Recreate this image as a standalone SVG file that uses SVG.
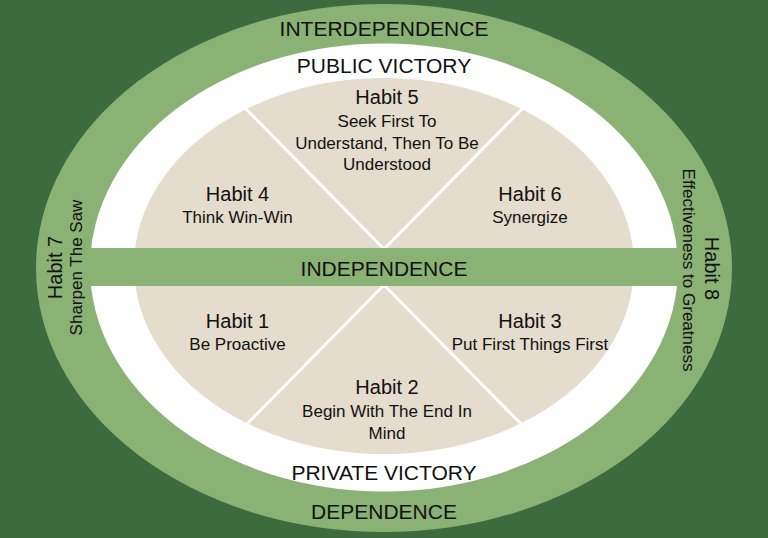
<svg xmlns="http://www.w3.org/2000/svg" width="768" height="538" viewBox="0 0 768 538">
<style>
text{font-family:"Liberation Sans",Arial,sans-serif;fill:#111;text-anchor:middle}
.big{font-size:21px}
.h{font-size:20px}
.s{font-size:17px}
.div{stroke:#fff;stroke-width:3;fill:none}
</style>
<rect width="768" height="538" fill="#3c6b3e"/>
<g id="interdependence">
<ellipse cx="384" cy="268" rx="348" ry="264" fill="#89b274"/>
<text class="big" x="384" y="36">INTERDEPENDENCE</text>
<text class="big" x="384" y="519">DEPENDENCE</text>
</g>
<g id="victory-ring">
<ellipse cx="384" cy="267.5" rx="294" ry="224" fill="#fff"/>
<text class="big" x="384" y="73">PUBLIC VICTORY</text>
<text class="big" x="384" y="480">PRIVATE VICTORY</text>
</g>
<g id="habits-area">
<ellipse cx="384" cy="266" rx="250" ry="188" fill="#e4dccc"/>
</g>
<g id="connectors">
<line class="div" x1="384" y1="249" x2="240" y2="103"/>
<line class="div" x1="384" y1="249" x2="528" y2="103"/>
<line class="div" x1="384" y1="285" x2="240" y2="431"/>
<line class="div" x1="384" y1="285" x2="528" y2="431"/>
</g>
<g id="independence">
<rect x="85" y="248" width="598" height="38" fill="#89b274"/>
<text class="big" x="384" y="275.5">INDEPENDENCE</text>
</g>
<g id="habit5">
<text class="h" x="387" y="104">Habit 5</text>
<text class="s" x="387" y="127">Seek First To</text>
<text class="s" x="387" y="148.5">Understand, Then To Be</text>
<text class="s" x="387" y="170">Understood</text>
</g>
<g id="habit4">
<text class="h" x="237.5" y="201">Habit 4</text>
<text class="s" x="237.5" y="223">Think Win-Win</text>
</g>
<g id="habit6">
<text class="h" x="530" y="200.5">Habit 6</text>
<text class="s" x="530" y="223">Synergize</text>
</g>
<g id="habit1">
<text class="h" x="237.5" y="328">Habit 1</text>
<text class="s" x="237.5" y="350">Be Proactive</text>
</g>
<g id="habit3">
<text class="h" x="530" y="327.5">Habit 3</text>
<text class="s" x="530" y="349.5">Put First Things First</text>
</g>
<g id="habit2">
<text class="h" x="387" y="394">Habit 2</text>
<text class="s" x="387" y="417">Begin With The End In</text>
<text class="s" x="387" y="438.5">Mind</text>
</g>
<g id="habit7">
<text class="h" transform="translate(62,267.5) rotate(-90)">Habit 7</text>
<text class="s" transform="translate(82,267.5) rotate(-90)">Sharpen The Saw</text>
</g>
<g id="habit8">
<text class="h" transform="translate(705,268.5) rotate(90)">Habit 8</text>
<text class="s" transform="translate(682.5,270) rotate(90)">Effectiveness to Greatness</text>
</g>
</svg>
